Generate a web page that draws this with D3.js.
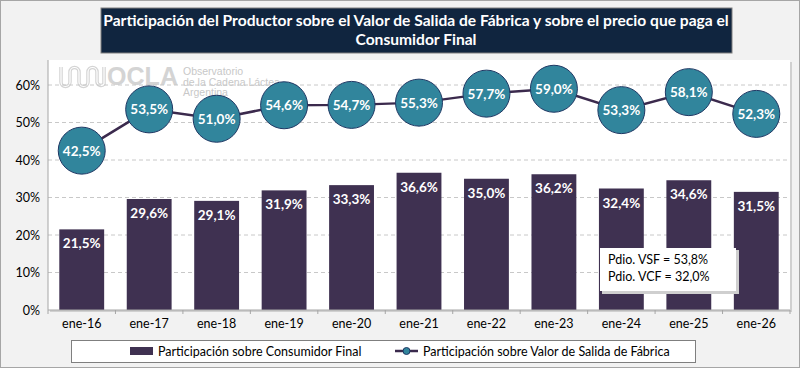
<!DOCTYPE html>
<html><head><meta charset="utf-8">
<script src="https://cdn.jsdelivr.net/npm/d3@7"></script>
<style>body{margin:0;background:#fff}svg{display:block}</style>
</head><body><svg id="c" width="800" height="368"></svg>
<script>
const categories = ["ene-16","ene-17","ene-18","ene-19","ene-20","ene-21","ene-22","ene-23","ene-24","ene-25","ene-26"];
const consumidorFinal = [21.5,29.6,29.1,31.9,33.3,36.6,35.0,36.2,32.4,34.6,31.5];
const salidaFabrica = [42.5,53.5,51.0,54.6,54.7,55.3,57.7,59.0,53.3,58.1,52.3];
const yTicks = [0,10,20,30,40,50,60];
const titleLines = ["Participación del Productor sobre el Valor de Salida de Fábrica y sobre el precio que paga el","Consumidor Final"];
const noteLines = ["Pdio. VSF = 53,8%","Pdio. VCF = 32,0%"];
const legendLabels = ["Participación sobre Consumidor Final","Participación sobre Valor de Salida de Fábrica"];
const watermarkLines = ["Observatorio","de la Cadena Láctea","Argentina"];

const fmt = v => v.toFixed(1).replace(".", ",") + "%";
const FONT = "Lato, 'Open Sans', sans-serif";
const svg = d3.select("#c");

// background
svg.append("rect").attr("x",0.5).attr("y",0.5).attr("width",799).attr("height",367)
  .attr("fill","#f2f2f2").attr("stroke","#a6a6a6");

const L = 48, R = 790, T = 60, B = 310;
// plot area white with shadow
svg.append("rect").attr("x",L+2).attr("y",T+2).attr("width",R-L).attr("height",B-T).attr("fill","#d0d0d0");
svg.append("rect").attr("x",L).attr("y",T).attr("width",R-L).attr("height",B-T).attr("fill","#fff");

const x = d3.scaleBand().domain(categories).range([L,R]).paddingInner(0.335).paddingOuter(0.1675);
const y = d3.scaleLinear().domain([0,60]).range([B,B-225]);

// watermark logo
const wave = "M61,67 V82 A4.5,4.5 0 0 0 70,82 V72 A4.5,4.5 0 0 1 79,72 V82 A4.5,4.5 0 0 0 88,82 V72 A4.5,4.5 0 0 1 97,72 V82 A4,4 0 0 0 104,84 V67";
svg.append("path").attr("fill","none").attr("stroke","#d4d4d4").attr("stroke-width",3.5).attr("d",wave);
svg.append("path").attr("fill","none").attr("stroke","#fff").attr("stroke-width",1.2).attr("d",wave);
svg.append("text").attr("x",107).attr("y",85).attr("font-family","'Liberation Sans', sans-serif").attr("font-weight","bold")
  .attr("font-size",25).attr("fill","#d4d4d4").attr("textLength",71).attr("lengthAdjust","spacingAndGlyphs").text("OCLA");
const wt = svg.append("g").attr("font-family","'Liberation Sans', sans-serif").attr("font-size",10.5).attr("fill","#c8c8c8");
watermarkLines.forEach((t,i)=>wt.append("text").attr("x",183).attr("y",75+i*10.5).text(t));

// grid
svg.append("g").selectAll("line").data(yTicks.filter(d=>d>0)).join("line")
  .attr("x1",L).attr("x2",R).attr("y1",d=>y(d)).attr("y2",d=>y(d))
  .attr("stroke","#c8c8c8").attr("stroke-dasharray","4,3");

// bars
svg.append("g").selectAll("rect").data(categories).join("rect")
  .attr("x",d=>x(d)).attr("width",x.bandwidth())
  .attr("y",(d,i)=>y(consumidorFinal[i])).attr("height",(d,i)=>B-y(consumidorFinal[i]))
  .attr("fill","#3f3151");
svg.append("g").selectAll("text").data(categories).join("text")
  .attr("x",d=>x(d)+x.bandwidth()/2).attr("y",(d,i)=>y(consumidorFinal[i])+19)
  .attr("text-anchor","middle").attr("font-family",FONT).attr("font-weight","bold").attr("font-size",13.5)
  .attr("fill","#fff").text((d,i)=>fmt(consumidorFinal[i]));

// axes
svg.append("line").attr("x1",L).attr("x2",L).attr("y1",T).attr("y2",B).attr("stroke","#a6a6a6");
svg.append("line").attr("x1",L).attr("x2",R).attr("y1",B).attr("y2",B).attr("stroke","#a6a6a6");
const step = x.step();
svg.append("g").selectAll("line").data(d3.range(categories.length+1)).join("line")
  .attr("x1",i=>L+i*step).attr("x2",i=>L+i*step).attr("y1",B).attr("y2",B+4).attr("stroke","#a6a6a6");
svg.append("g").selectAll("text").data(yTicks).join("text")
  .attr("x",40).attr("y",d=>y(d)+4.5).attr("text-anchor","end").attr("font-family",FONT).attr("font-size",12.5)
  .attr("fill","#000").text(d=>d+"%");
svg.append("g").selectAll("text").data(categories).join("text")
  .attr("x",d=>x(d)+x.bandwidth()/2).attr("y",B+18).attr("text-anchor","middle")
  .attr("font-family",FONT).attr("font-size",12.5).attr("fill","#000").text(d=>d);

// line
const line = d3.line().x((d,i)=>x(categories[i])+x.bandwidth()/2).y(d=>y(d));
svg.append("path").datum(salidaFabrica).attr("d",line).attr("fill","none").attr("stroke","#3b2a4d").attr("stroke-width",2.5);
const pts = svg.append("g").selectAll("g").data(salidaFabrica).join("g")
  .attr("transform",(d,i)=>`translate(${x(categories[i])+x.bandwidth()/2},${y(d)})`);
pts.append("circle").attr("r",23.5).attr("fill","#31859c").attr("stroke","#1f3864").attr("stroke-width",1);
pts.append("text").attr("y",5).attr("text-anchor","middle").attr("font-family",FONT).attr("font-weight","bold")
  .attr("font-size",13.5).attr("fill","#fff").text(d=>fmt(d));

// note box
svg.append("rect").attr("x",602).attr("y",250).attr("width",137).attr("height",44).attr("fill","#cfcfcf");
svg.append("rect").attr("x",600).attr("y",248).attr("width",136).attr("height",43).attr("fill","#fff");
noteLines.forEach((t,i)=>svg.append("text").attr("x",608).attr("y",264+i*17).attr("font-family",FONT)
  .attr("font-size",12.5).attr("fill","#000").text(t));

// title
svg.append("rect").attr("x",101).attr("y",8).attr("width",631).attr("height",45).attr("fill","#10253f").attr("stroke","#7f7f7f");
titleLines.forEach((t,i)=>svg.append("text").attr("x",416).attr("y",26+i*19).attr("text-anchor","middle")
  .attr("font-family",FONT).attr("font-weight","bold").attr("font-size",15.6).attr("fill","#fff").text(t));

// legend
svg.append("rect").attr("x",71.5).attr("y",340.5).attr("width",624).attr("height",22).attr("fill","#fff").attr("stroke","#7f7f7f");
svg.append("rect").attr("x",130).attr("y",347).attr("width",23).attr("height",8).attr("fill","#3f3151");
svg.append("text").attr("x",158).attr("y",356).attr("font-family",FONT).attr("font-size",12.5).attr("fill","#000").text(legendLabels[0]);
svg.append("line").attr("x1",395).attr("x2",418).attr("y1",351).attr("y2",351).attr("stroke","#3b2a4d").attr("stroke-width",2.5);
svg.append("circle").attr("cx",406.5).attr("cy",351).attr("r",3.5).attr("fill","#31859c").attr("stroke","#1f3864");
svg.append("text").attr("x",423).attr("y",356).attr("font-family",FONT).attr("font-size",12.5).attr("fill","#000").text(legendLabels[1]);
</script></body></html>
